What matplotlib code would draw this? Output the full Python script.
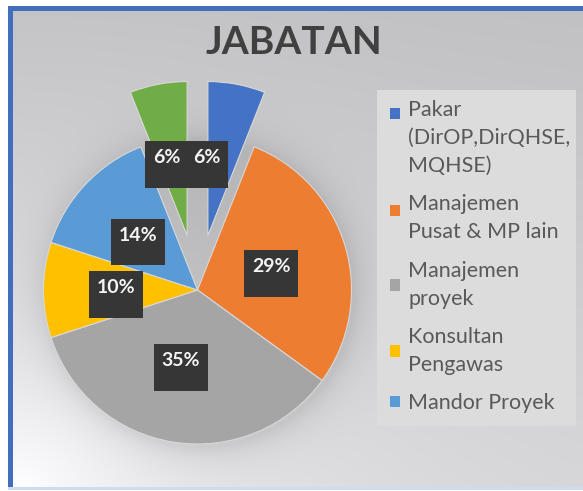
import numpy as np
import matplotlib
matplotlib.use("Agg")
import matplotlib.pyplot as plt
from matplotlib.patches import Patch, Rectangle
from matplotlib.legend_handler import HandlerPatch

# ---------------- data ----------------
categories = ["Pakar\n(DirOP,DirQHSE,\nMQHSE)", "Manajemen\nPusat & MP lain",
              "Manajemen\nproyek", "Konsultan\nPengawas", "Mandor Proyek", "Lainnya"]
values = [6, 29, 35, 10, 14, 6]
colors = ["#4472C4", "#ED7D31", "#A5A5A5", "#FFC000", "#5B9BD5", "#70AD47"]
explode = [0.36, 0, 0, 0, 0, 0.36]
title = "JABATAN"

W, H = 583, 491
fig = plt.figure(figsize=(W / 100, H / 100), dpi=100)

# ---------------- background ----------------
yy, xx = np.mgrid[0:H, 0:W].astype(float)
d = np.hypot(xx - 20, yy - 490)
v = 0.75 + 0.08 * yy / H + 0.17 * np.exp(-d / 220)
r = np.hypot(xx - 200, yy - 293)
v = v - 0.09 * np.exp(-np.clip(r - 154, 0, None) / 16)
rgb = np.dstack([v, v, v * 1.01])
# legend panel
rgb[90:426, 377:576] = [0.865, 0.865, 0.87]
rgb = np.clip(rgb, 0, 1)
# frame / border
rgb[:6, :] = 1
rgb[:, :8] = 1
blue = np.array([66, 110, 190]) / 255
rgb[6:11, 8:] = blue
rgb[6:, 8:13] = blue
rgb[487:490, 8:] = [0.80, 0.87, 0.95]
rgb[490:, :] = 1

bg = fig.add_axes([0, 0, 1, 1])
bg.imshow(rgb, extent=[0, W, H, 0], aspect="auto", interpolation="bilinear")
bg.set_xlim(0, W)
bg.set_ylim(H, 0)
bg.axis("off")

# ---------------- pie ----------------
cx, cy, R = 197.5, 290.0, 154.0
xl, xr = -1.25, 1.25
yb, yt = -1.25, 1.55
ax = fig.add_axes([(cx + xl * R) / W, (H - (cy - yb * R)) / H,
                   (xr - xl) * R / W, (yt - yb) * R / H])
wedges, texts, autotexts = ax.pie(
    values, colors=colors, explode=explode, startangle=90, counterclock=False,
    radius=1, autopct="%d%%\n", pctdistance=0.5,
    wedgeprops=dict(edgecolor="#d8d8d8", linewidth=0.8),
    textprops=dict(color="#f4f4f4", fontsize=14, fontweight="bold", family="Lato"))
ax.set_xlim(xl, xr)
ax.set_ylim(yb, yt)
ax.set_aspect("auto")
ax.set_facecolor("none")

nudge = {0: (-0.10, 0.0), 5: (-0.04, 0.0), 2: (-0.03, 0.02), 3: (-0.03, 0.0),
         4: (-0.02, 0.0)}
for i, t in enumerate(autotexts):
    x, y = t.get_position()
    dx, dy = nudge.get(i, (0, 0))
    t.set_position((x + dx, y + dy + 0.07))
    t.set_va("top")
    t.set_linespacing(0.8)
    t.set_bbox(dict(boxstyle="square,pad=0.4", facecolor="#363636", edgecolor="none"))

# ---------------- title ----------------
fig.text(294 / W, 1 - 43 / H, title, ha="center", va="center", fontsize=28,
         fontweight="bold", color="#404040", family="Lato")

# ---------------- legend ----------------
class ShiftedHandler(HandlerPatch):
    def __init__(self, dy):
        super().__init__()
        self.dy = dy

    def create_artists(self, legend, orig_handle, xdescent, ydescent,
                       width, height, fontsize, trans):
        p = Rectangle((-xdescent, -ydescent + self.dy), width, height,
                      facecolor=orig_handle.get_facecolor(), edgecolor="none",
                      transform=trans)
        return [p]

handles = [Patch(facecolor=c, edgecolor="none") for c in colors[:5]]
hmap = {handles[0]: ShiftedHandler(18), handles[1]: ShiftedHandler(6)}
leg = fig.legend(handles, categories[:5], loc="upper left", handler_map=hmap,
                 bbox_to_anchor=(390 / W, 1 - 100 / H), frameon=False,
                 prop=dict(family="Lato", size=15.5), labelcolor="#595959",
                 handlelength=0.45, handleheight=0.45, handletextpad=0.4,
                 labelspacing=0.85, borderpad=0, borderaxespad=0)
for t in leg.get_texts():
    t.set_linespacing(1.5)

fig.savefig("out.png", dpi=100)
